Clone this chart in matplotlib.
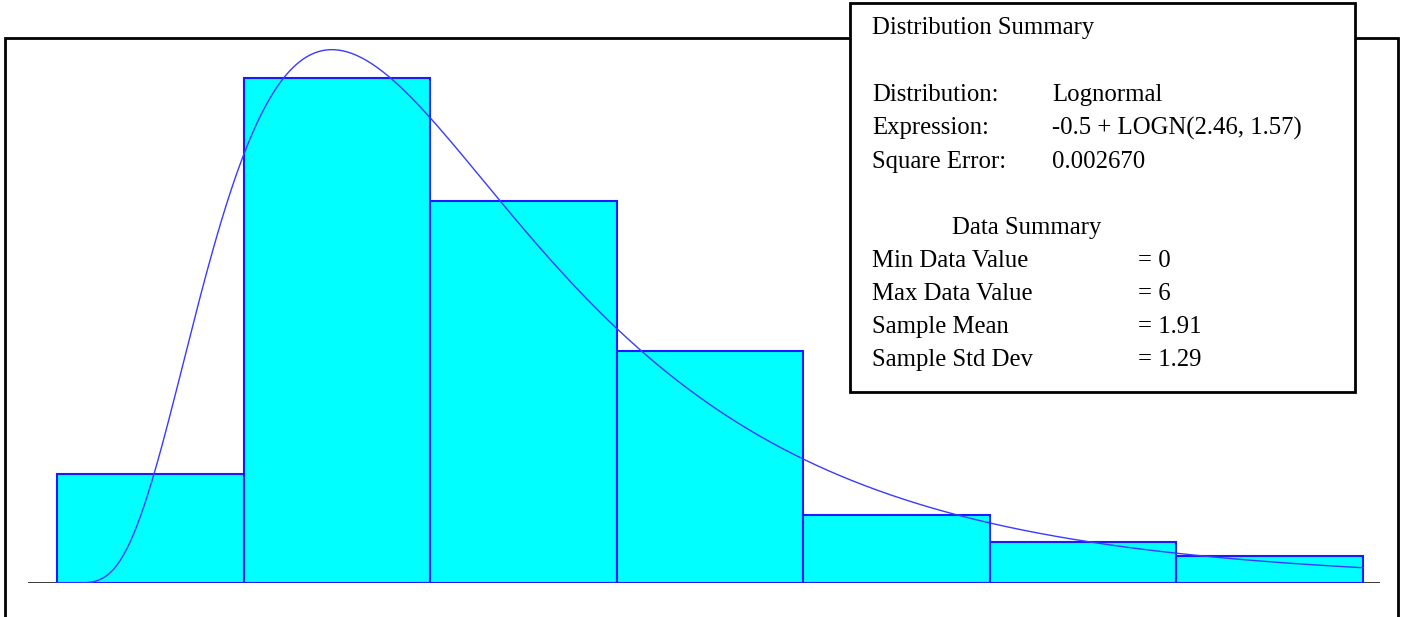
import numpy as np
import matplotlib
matplotlib.use("Agg")
import matplotlib.pyplot as plt
from matplotlib.patches import Rectangle

# ---- data ----
categories = [0, 1, 2, 3, 4, 5, 6]
counts = [8, 37, 28, 17, 5, 3, 2]
n_obs = 100
fit_offset = -0.5
fit_mean = 2.46
fit_std = 1.57

summary_title = "Distribution Summary"
dist_labels = ["Distribution:", "Expression:", "Square Error:"]
dist_values = ["Lognormal", "-0.5 + LOGN(2.46, 1.57)", "0.002670"]
data_title = "Data Summary"
data_labels = ["Min Data Value", "Max Data Value", "Sample Mean", "Sample Std Dev"]
data_values = ["= 0", "= 6", "= 1.91", "= 1.29"]

freqs = np.array(counts) / n_obs

W, H = 1404, 617
fig = plt.figure(figsize=(W / 100, H / 100), dpi=100)
fig.patch.set_facecolor("white")

def fx(px):
    return px / W

def fy(py):
    return 1 - py / H

# outer frame
fig.add_artist(Rectangle((fx(5), fy(640)), fx(1398) - fx(5), fy(38) - fy(640),
                         transform=fig.transFigure, fill=False,
                         edgecolor="black", linewidth=2.0))

ax = fig.add_axes([fx(28), fy(583), fx(1380) - fx(28), fy(38) - fy(583)])
ax.set_xlim(-0.6554, 6.591)
ax.set_ylim(0, 545 / 1366)
ax.axis("off")

ax.axhline(0, color="black", linewidth=1.8, zorder=1)
ax.bar(categories, freqs, width=1.0, align="center", color="#00FFFF",
       edgecolor="#1a1aff", linewidth=1.5, zorder=2)

# fitted lognormal density (bin width 1)
sig2 = np.log(1 + fit_std ** 2 / fit_mean ** 2)
sig = np.sqrt(sig2)
mu = np.log(fit_mean) - sig2 / 2
xs = np.linspace(-0.5 + 1e-4, 6.5, 800)
t = xs - fit_offset
pdf = np.exp(-(np.log(t) - mu) ** 2 / (2 * sig2)) / (t * sig * np.sqrt(2 * np.pi))
ax.plot(xs, pdf, color="#3a3aff", linewidth=1.0, zorder=3)

# summary box
fig.add_artist(Rectangle((fx(850), fy(392)), fx(1355) - fx(850), fy(3) - fy(392),
                         transform=fig.transFigure, facecolor="white",
                         edgecolor="black", linewidth=2.0, zorder=5))

font = dict(family="Liberation Serif", fontsize=17.8, color="black", va="center", zorder=6)
fig.text(fx(872), fy(28), summary_title, **font)
ys = [95, 128, 162]
for lab, val, y in zip(dist_labels, dist_values, ys):
    fig.text(fx(872), fy(y), lab, **font)
    fig.text(fx(1052), fy(y), val, **font)
fig.text(fx(952), fy(228), data_title, **font)
ys2 = [261, 294, 327, 360]
for lab, val, y in zip(data_labels, data_values, ys2):
    fig.text(fx(872), fy(y), lab, **font)
    fig.text(fx(1138), fy(y), val, **font)

fig.savefig("out.png", dpi=100)
